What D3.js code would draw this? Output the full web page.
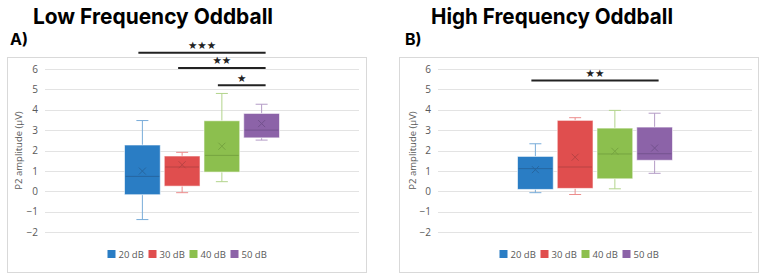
<!DOCTYPE html>
<html>
<head>
<meta charset="utf-8">
<script src="https://cdn.jsdelivr.net/npm/d3@7"></script>
<style>
  body { margin: 0; background: #fff; }
  svg text { font-family: "Liberation Sans", Arial, sans-serif; }
</style>
</head>
<body>
<svg id="chart" width="763" height="278"></svg>
<script>
// series and y ticks
const series = ["20 dB", "30 dB", "40 dB", "50 dB"];
const yTicks = [-2, -1, 0, 1, 2, 3, 4, 5, 6];

// Low frequency oddball
const lowMin    = [-1.39, -0.07, 0.47, 2.51];
const lowQ1     = [-0.17, 0.25, 0.94, 2.62];
const lowMedian = [0.73, 1.19, 1.76, 3.0];
const lowQ3     = [2.27, 1.73, 3.46, 3.82];
const lowMax    = [3.47, 1.91, 4.8, 4.27];
const lowMean   = [0.99, 1.3, 2.21, 3.32];

// High frequency oddball
const highMin    = [-0.07, -0.16, 0.12, 0.88];
const highQ1     = [0.09, 0.14, 0.61, 1.52];
const highMedian = [1.11, 1.19, 1.83, 1.84];
const highQ3     = [1.71, 3.48, 3.1, 3.15];
const highMax    = [2.33, 3.61, 3.97, 3.83];
const highMean   = [1.06, 1.67, 1.96, 2.12];

// significance brackets: from series, to series, height in µV, label
const lowSig  = [["20 dB", "50 dB", 6.8, "★★★"], ["30 dB", "50 dB", 6.05, "★★"], ["40 dB", "50 dB", 5.2, "★"]];
const highSig = [["20 dB", "50 dB", 5.43, "★★"]];

const fills   = ["#2a7dc4", "#e04e4e", "#8cbf4e", "#8c63a8"];
const darks   = ["#2666a0", "#b84343", "#76a440", "#73528e"];
const lights  = ["#78acd9", "#ec8d8d", "#b2d48c", "#b49cc6"];

const svg = d3.select("#chart");

function drawPanel(o) {
  const g = svg.append("g");
  const rows = series.map((s, i) => ({
    s, i, min: o.min[i], q1: o.q1[i], med: o.med[i], q3: o.q3[i], max: o.max[i], mean: o.mean[i]
  }));

  // frame
  g.append("rect")
    .attr("x", o.frame[0] + 0.5).attr("y", 57.5)
    .attr("width", o.frame[1] - o.frame[0]).attr("height", 215)
    .attr("fill", "#fff").attr("stroke", "#d9d9d9");

  const y = d3.scaleLinear().domain([-2, 6]).range([232, 69]);
  const cx = (o.plot[0] + o.plot[1]) / 2;
  const x = d3.scaleBand().domain(series)
    .range([cx - 77.5, cx + 77.5]).paddingInner(0.1);
  const bw = x.bandwidth();

  // grid
  g.append("g").selectAll("line").data(yTicks).join("line")
    .attr("x1", o.plot[0]).attr("x2", o.plot[1])
    .attr("y1", d => Math.round(y(d)) + 0.5).attr("y2", d => Math.round(y(d)) + 0.5)
    .attr("stroke", "#e3e3e3");

  // y axis labels
  const yAxis = d3.axisLeft(y).tickValues(yTicks).tickSize(0).tickPadding(7);
  const ax = g.append("g").attr("transform", `translate(${o.plot[0]},0)`).call(yAxis);
  ax.select(".domain").remove();
  ax.selectAll("text").attr("fill", "#595959").style("font-size", "10px")
    .style("font-family", "'Open Sans', sans-serif");

  g.append("text")
    .attr("transform", `translate(${o.ylab},${y(2)}) rotate(-90)`)
    .attr("text-anchor", "middle").attr("fill", "#595959")
    .style("font-size", "9.5px").style("font-family", "'Open Sans', sans-serif")
    .text("P2 amplitude (μV)");

  // whiskers
  const bx = g.append("g").selectAll("g").data(rows).join("g");
  bx.append("line")
    .attr("x1", d => x(d.s) + bw / 2).attr("x2", d => x(d.s) + bw / 2)
    .attr("y1", d => y(d.max)).attr("y2", d => y(d.q3))
    .attr("stroke", d => lights[d.i]);
  bx.append("line")
    .attr("x1", d => x(d.s) + bw / 2).attr("x2", d => x(d.s) + bw / 2)
    .attr("y1", d => y(d.q1)).attr("y2", d => y(d.min))
    .attr("stroke", d => lights[d.i]);
  ["max", "min"].forEach(k => {
    bx.append("line")
      .attr("x1", d => x(d.s) + bw / 2 - 6).attr("x2", d => x(d.s) + bw / 2 + 6)
      .attr("y1", d => y(d[k])).attr("y2", d => y(d[k]))
      .attr("stroke", d => lights[d.i]);
  });
  // boxes
  bx.append("rect")
    .attr("x", d => x(d.s)).attr("width", bw)
    .attr("y", d => y(d.q3)).attr("height", d => y(d.q1) - y(d.q3))
    .attr("fill", d => fills[d.i]).attr("stroke", "#fff").attr("stroke-opacity", 0.6);
  bx.append("line")
    .attr("x1", d => x(d.s) + 1).attr("x2", d => x(d.s) + bw - 1)
    .attr("y1", d => y(d.med)).attr("y2", d => y(d.med))
    .attr("stroke", d => darks[d.i]).attr("stroke-width", 1);
  bx.append("path")
    .attr("d", d => {
      const mx = x(d.s) + bw / 2, my = y(d.mean), r = 3.5;
      return `M${mx - r},${my - r}L${mx + r},${my + r}M${mx - r},${my + r}L${mx + r},${my - r}`;
    })
    .attr("stroke", d => darks[d.i]).attr("fill", "none");

  // significance
  const sg = g.append("g").selectAll("g").data(o.sig).join("g");
  sg.append("line")
    .attr("x1", d => x(d[0]) + bw / 2 - 4).attr("x2", d => x(d[1]) + bw / 2 + 4)
    .attr("y1", d => y(d[2])).attr("y2", d => y(d[2]))
    .attr("stroke", "#222").attr("stroke-width", 2);
  sg.append("text")
    .attr("x", d => (x(d[0]) + x(d[1]) + bw) / 2)
    .attr("y", d => y(d[2]) - 3.5)
    .attr("text-anchor", "middle").style("font-size", "10.5px")
    .style("font-family", "'DejaVu Sans', sans-serif").attr("fill", "#222")
    .text(d => d[3]);

  // legend
  const lcx = (o.frame[0] + o.frame[1]) / 2;
  const lg = g.append("g").attr("transform", `translate(${lcx - 79},250)`);
  const li = lg.selectAll("g").data(series).join("g")
    .attr("transform", (d, i) => `translate(${i * 41},0)`);
  li.append("rect").attr("width", 8).attr("height", 8).attr("fill", (d, i) => fills[i]);
  li.append("text").attr("x", 11).attr("y", 8)
    .attr("fill", "#595959").style("font-size", "9.5px")
    .style("font-family", "'Open Sans', sans-serif").text(d => d);

  // titles
  g.append("text").attr("x", o.title[0]).attr("y", 23.5)
    .style("font-family", "Inter, sans-serif").style("font-weight", 700).style("font-size", "22px")
    .attr("textLength", o.title[1]).attr("lengthAdjust", "spacingAndGlyphs")
    .text(o.name);
  g.append("text").attr("x", o.letter).attr("y", 45)
    .style("font-family", "Inter, sans-serif").style("font-weight", 700).style("font-size", "16px")
    .text(o.tag);
}

drawPanel({
  name: "Low Frequency Oddball", tag: "A)", title: [33, 240], letter: 10,
  frame: [7, 366], plot: [45, 359], ylab: 22,
  min: lowMin, q1: lowQ1, med: lowMedian, q3: lowQ3, max: lowMax, mean: lowMean, sig: lowSig
});
drawPanel({
  name: "High Frequency Oddball", tag: "B)", title: [431, 242], letter: 405,
  frame: [399, 758], plot: [438, 752], ylab: 416,
  min: highMin, q1: highQ1, med: highMedian, q3: highQ3, max: highMax, mean: highMean, sig: highSig
});
</script>
</body>
</html>
